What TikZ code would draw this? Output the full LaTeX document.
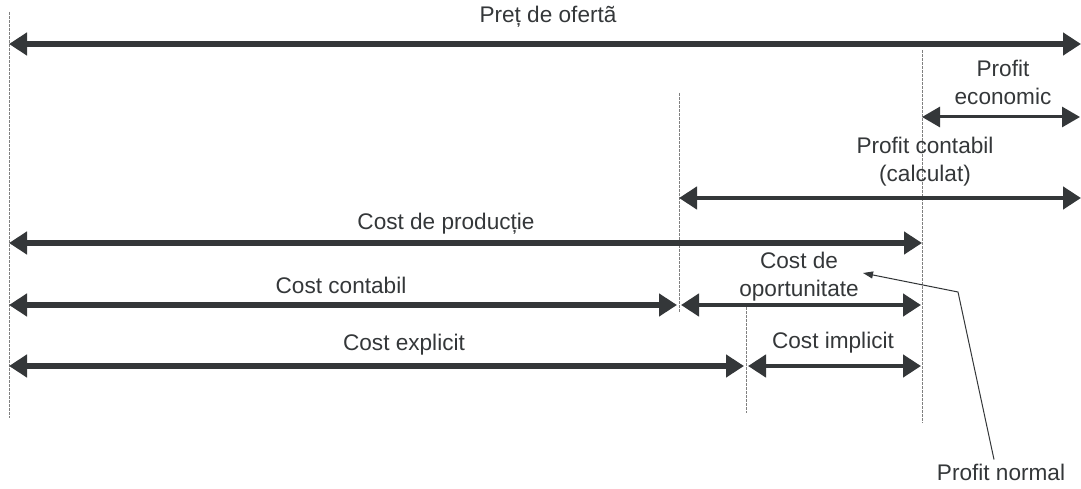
\documentclass[tikz,border=0pt]{standalone}
\usepackage{fontspec}
\setmainfont{Liberation Sans}
\usetikzlibrary{arrows.meta}
\definecolor{ink}{RGB}{52,55,57}
\tikzset{
  lbl/.style={text=ink, font=\fontsize{22.6}{28}\selectfont, inner sep=0pt, align=center},
  guide/.style={draw=gray, line width=0.9pt, dash pattern=on 3pt off 1pt},
  bigarrow/.style={draw=ink, line width=6pt, {Triangle[length=18pt,width=22pt]}-{Triangle[length=18pt,width=22pt]}},
  midarrow/.style={draw=ink, line width=4.5pt, {Triangle[length=18pt,width=22pt]}-{Triangle[length=18pt,width=22pt]}},
  thinarrow/.style={draw=ink, line width=3pt, {Triangle[length=18pt,width=20pt]}-{Triangle[length=18pt,width=20pt]}},
  leader/.style={draw=ink, line width=1pt, -{Triangle[length=10pt,width=7pt]}}
}
\begin{document}
\begin{tikzpicture}[x=1pt,y=-1pt]
\useasboundingbox (0,0) rectangle (1081,489);
% guide lines
\coordinate (g1t) at (9,12);   \coordinate (g1b) at (9,418);
\coordinate (g2t) at (679,93); \coordinate (g2b) at (679,313);
\coordinate (g3t) at (922,50); \coordinate (g3b) at (922,423);
\coordinate (g4t) at (746,307);\coordinate (g4b) at (746,413);
\draw[guide] (g1t) -- (g1b);
\draw[guide] (g2t) -- (g2b);
\draw[guide] (g3t) -- (g3b);
\draw[guide] (g4t) -- (g4b);
% arrow end points
\coordinate (a1l) at (9,44);    \coordinate (a1r) at (1081,44);
\coordinate (a2l) at (922,117); \coordinate (a2r) at (1080,117);
\coordinate (a3l) at (679,198); \coordinate (a3r) at (1081,198);
\coordinate (a4l) at (9,243);   \coordinate (a4r) at (922,243);
\coordinate (a5l) at (9,305);   \coordinate (a5r) at (677,305);
\coordinate (a6l) at (681,305); \coordinate (a6r) at (921,305);
\coordinate (a7l) at (9,366);   \coordinate (a7r) at (744,366);
\coordinate (a8l) at (748,366); \coordinate (a8r) at (921,366);
\draw[bigarrow] (a1l) -- (a1r);
\draw[thinarrow] (a2l) -- (a2r);
\draw[midarrow] (a3l) -- (a3r);
\draw[bigarrow] (a4l) -- (a4r);
\draw[bigarrow] (a5l) -- (a5r);
\draw[midarrow] (a6l) -- (a6r);
\draw[bigarrow] (a7l) -- (a7r);
\draw[midarrow] (a8l) -- (a8r);
% labels
\node[lbl] (t1) at (548,17) {Preț de ofertã};
\node[lbl] (t2) at (1003,82) {Profit\\economic};
\node[lbl] (t3) at (925,162) {Profit contabil\\(calculat)};
\node[lbl] (t4) at (446,224) {Cost de producție};
\node[lbl] (t5) at (341,285) {Cost contabil};
\node[lbl] (t6) at (799,277) {Cost de\\oportunitate};
\node[lbl] (t7) at (404,345) {Cost explicit};
\node[lbl] (t8) at (833,343) {Cost implicit};
\node[lbl] (t9) at (1001,472) {Profit normal};
% leader
\coordinate (bend) at (958,292);
\coordinate (tip) at (863,273);
\draw[leader] (t9.north -| 994,0) ++(0,-4) -- (bend) -- (tip);
\end{tikzpicture}
\end{document}
